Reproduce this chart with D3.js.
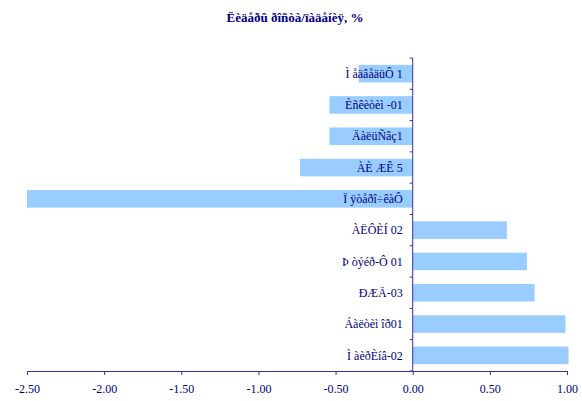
<!DOCTYPE html>
<html>
<head>
<meta charset="utf-8">
<script src="https://cdn.jsdelivr.net/npm/d3@7"></script>
<style>
  body { margin: 0; background: #fff; }
  text { font-family: "Liberation Serif", "DejaVu Serif", serif; fill: #000080; }
</style>
</head>
<body>
<div id="chart"></div>
<script>
var chartTitle = "Ëèäåðû ðîñòà/ïàäåíèÿ, %";

var categories = ["Ì åäâåäüÔ 1", "Èñêèòèì -01", "ÄàëüÑâç1", "ÀÈ ÆÊ 5", "Ï ÿòåðî÷êàÔ",
                  "ÀËÔÈÍ  02", "Þ òýéð-Ô 01", "ÐÆÄ-03", "Áàëòèì îð01", "Ì àèðÈíâ-02"];
var values = [-0.35, -0.54, -0.54, -0.73, -2.50, 0.61, 0.74, 0.79, 0.99, 1.01];
var xTicks = [-2.5, -2.0, -1.5, -1.0, -0.5, 0.0, 0.5, 1.0];

var W = 582, H = 401;
var x0 = 27, x1 = 567, yTop = 58, yBot = 371;

var xScale = d3.scaleLinear().domain([-2.5, 1.0]).range([x0, x1]);
var yScale = d3.scaleBand().domain(categories).range([yTop, yBot]).paddingInner(0.44).paddingOuter(0.22);

var svg = d3.select("#chart").append("svg")
    .attr("width", W)
    .attr("height", H);

svg.append("text")
    .attr("x", 295)
    .attr("y", 22)
    .attr("text-anchor", "middle")
    .attr("font-size", "13px")
    .attr("font-weight", "bold")
    .text(chartTitle);

// bars
svg.append("g").selectAll("rect")
    .data(values)
    .enter().append("rect")
    .attr("x", function(d) { return xScale(Math.min(0, d)); })
    .attr("y", function(d, i) { return yScale(categories[i]); })
    .attr("width", function(d) { return Math.abs(xScale(d) - xScale(0)); })
    .attr("height", yScale.bandwidth())
    .attr("fill", "#99ccff");

// x axis
var fmt = d3.format(".2f");
var xAxis = d3.axisBottom(xScale).tickValues(xTicks).tickSize(4).tickSizeOuter(0)
    .tickFormat(function(d) { return fmt(d).replace("\u2212", "-"); });
var gx = svg.append("g")
    .attr("transform", "translate(0," + yBot + ")")
    .call(xAxis);
gx.select(".domain").attr("stroke", "#333399");
gx.selectAll(".tick line").attr("stroke", "#333399");
gx.selectAll(".tick text")
    .attr("y", 13)
    .attr("font-size", "12px")
    .attr("font-family", "Liberation Serif, serif")
    .attr("fill", "#000080");

// y axis line at zero
var x0pos = xScale(0);
svg.append("line")
    .attr("x1", x0pos).attr("x2", x0pos)
    .attr("y1", yTop).attr("y2", yBot)
    .attr("stroke", "#333399");

// category boundary ticks
var step = (yBot - yTop) / categories.length;
svg.append("g").selectAll("line")
    .data(d3.range(categories.length + 1))
    .enter().append("line")
    .attr("x1", x0pos - 3).attr("x2", x0pos)
    .attr("y1", function(i) { return yTop + i * step; })
    .attr("y2", function(i) { return yTop + i * step; })
    .attr("stroke", "#333399");

// category labels
svg.append("g").selectAll("text")
    .data(categories)
    .enter().append("text")
    .attr("x", x0pos - 10)
    .attr("y", function(d) { return yScale(d) + yScale.bandwidth() / 2; })
    .attr("dy", "0.35em")
    .attr("text-anchor", "end")
    .attr("font-size", "12px")
    .text(function(d) { return d; });
</script>
</body>
</html>
